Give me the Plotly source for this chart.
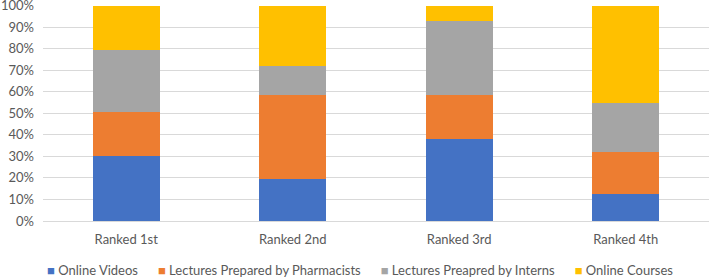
import plotly.graph_objects as go

categories = ["Ranked 1st", "Ranked 2nd", "Ranked 3rd", "Ranked 4th"]
online_videos = [30.0, 19.4, 38.0, 12.5]
lectures_pharmacists = [20.5, 38.9, 20.3, 19.5]
lectures_interns = [28.7, 13.9, 34.7, 22.9]
online_courses = [20.8, 27.8, 7.0, 45.1]
y_ticks = list(range(0, 101, 10))

series = [
    ("Online Videos", online_videos, "#4472C4"),
    ("Lectures Prepared by Pharmacists", lectures_pharmacists, "#ED7D31"),
    ("Lectures Preapred by Interns", lectures_interns, "#A5A5A5"),
    ("Online Courses", online_courses, "#FFC000"),
]

FONT = "Lato, Open Sans, sans-serif"
TXT = "#595959"

fig = go.Figure()
for name, vals, color in series:
    fig.add_trace(go.Bar(x=categories, y=vals, name=name, marker_color=color,
                         marker_line_width=0, width=0.4))

legend_text = "&nbsp;" * 6
legend_text = legend_text.join(
    f"<span style='color:{c}'>■</span> {n}" for n, _, c in series)

fig.update_layout(
    width=709, height=278,
    barmode="stack",
    margin=dict(l=43, r=0, t=5, b=57, autoexpand=False),
    paper_bgcolor="white", plot_bgcolor="white",
    font=dict(family=FONT, size=13, color=TXT),
    showlegend=False,
    annotations=[dict(text=legend_text, xref="paper", yref="paper",
                      x=0.476, y=-0.226, xanchor="center", yanchor="middle",
                      showarrow=False, font=dict(family=FONT, size=13, color=TXT))],
)
fig.update_yaxes(range=[0, 100.3], tickvals=y_ticks,
                 ticktext=[f"{v}%" for v in y_ticks], showgrid=True,
                 gridcolor="#D9D9D9", gridwidth=1, zeroline=False, showline=False,
                 ticklabelstandoff=8, ticklabeloverflow="allow",
                 tickfont=dict(size=13, color=TXT))
fig.update_xaxes(showline=True, linecolor="#D9D9D9", linewidth=1, ticks="",
                 ticklabelstandoff=6, tickfont=dict(size=13, color=TXT))

fig.write_html("out.html", config={"displayModeBar": False},
               post_script="document.body.style.margin='0';")
